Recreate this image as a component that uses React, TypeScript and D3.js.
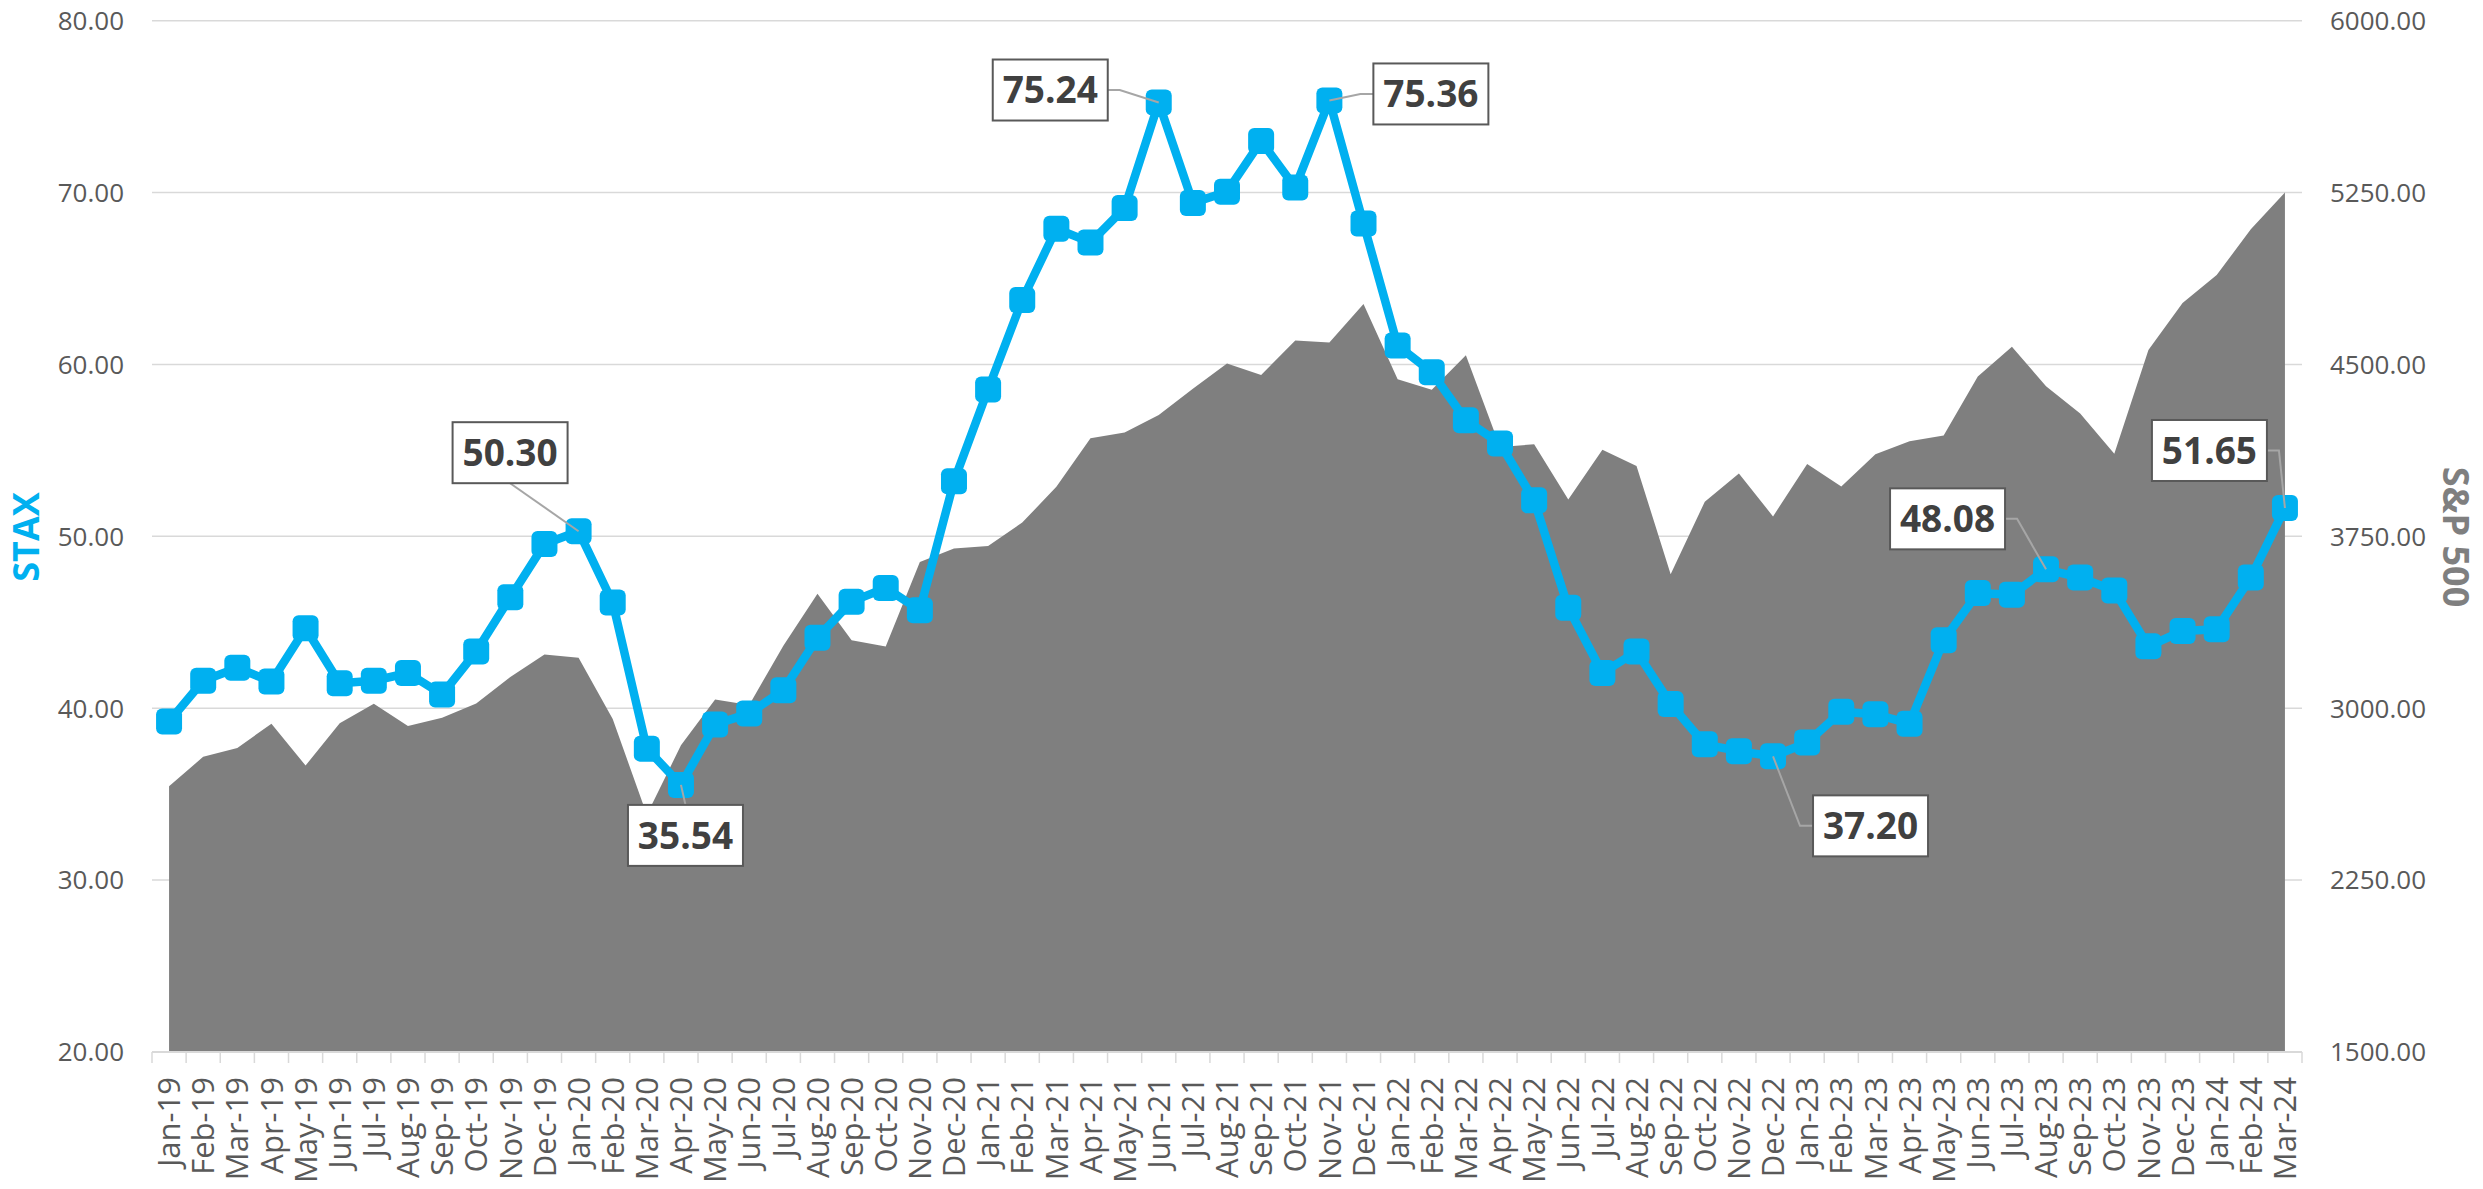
import { useEffect, useRef } from "react";
import * as d3 from "d3";

// categories (monthly)
const months = [
  "Jan-19", "Feb-19", "Mar-19", "Apr-19", "May-19", "Jun-19", "Jul-19", "Aug-19", "Sep-19", "Oct-19", "Nov-19", "Dec-19",
  "Jan-20", "Feb-20", "Mar-20", "Apr-20", "May-20", "Jun-20", "Jul-20", "Aug-20", "Sep-20", "Oct-20", "Nov-20", "Dec-20",
  "Jan-21", "Feb-21", "Mar-21", "Apr-21", "May-21", "Jun-21", "Jul-21", "Aug-21", "Sep-21", "Oct-21", "Nov-21", "Dec-21",
  "Jan-22", "Feb-22", "Mar-22", "Apr-22", "May-22", "Jun-22", "Jul-22", "Aug-22", "Sep-22", "Oct-22", "Nov-22", "Dec-22",
  "Jan-23", "Feb-23", "Mar-23", "Apr-23", "May-23", "Jun-23", "Jul-23", "Aug-23", "Sep-23", "Oct-23", "Nov-23", "Dec-23",
  "Jan-24", "Feb-24", "Mar-24",
];

// STAX (left axis)
const stax = [
  39.23, 41.6, 42.35, 41.55, 44.65, 41.45, 41.6, 42.05, 40.8, 43.3, 46.45, 49.55,
  50.3, 46.15, 37.65, 35.54, 39.05, 39.7, 41.05, 44.1, 46.2, 47.0, 45.7, 53.2,
  58.55, 63.75, 67.9, 67.1, 69.1, 75.24, 69.4, 70.05, 73.0, 70.3, 75.36, 68.2,
  61.1, 59.55, 56.75, 55.4, 52.1, 45.85, 42.05, 43.3, 40.25, 37.9, 37.5, 37.2,
  38.0, 39.8, 39.65, 39.1, 43.95, 46.7, 46.6, 48.08, 47.6, 46.85, 43.6, 44.5,
  44.6, 47.6, 51.65,
];

// S&P 500 (right axis)
const spx = [
  2660, 2788, 2827, 2932, 2750, 2935, 3020, 2923, 2958, 3021, 3136, 3234,
  3220, 2953, 2535, 2838, 3038, 3014, 3273, 3500, 3297, 3269, 3638, 3697,
  3708, 3810, 3966, 4178, 4203, 4280, 4394, 4504, 4454, 4605, 4596, 4764,
  4435, 4390, 4540, 4140, 4152, 3911, 4128, 4057, 3585, 3901, 4024, 3837,
  4066, 3967, 4108, 4165, 4190, 4447, 4577, 4405, 4286, 4110, 4563, 4768,
  4890, 5090, 5250,
];

const leftTicks = [20, 30, 40, 50, 60, 70, 80];
const rightTicks = [1500, 2250, 3000, 3750, 4500, 5250, 6000];

// callouts: which point, box offset from the marker, side the leader attaches to
const callouts = [
  { i: 12, dx: -126, dy: -109, side: "bottom" },
  { i: 15, dx: -53, dy: 20, side: "top" },
  { i: 29, dx: -166, dy: -43, side: "right" },
  { i: 34, dx: 44, dy: -37, side: "left" },
  { i: 47, dx: 40, dy: 39, side: "left" },
  { i: 55, dx: -156, dy: -81, side: "right" },
  { i: 62, dx: -133, dy: -88, side: "right" },
];

const W = 2483;
const H = 1189;
const FONT = "'Open Sans', 'Noto Sans', sans-serif";

export default function App() {
  const svgRef = useRef<SVGSVGElement>(null);

  useEffect(() => {
    if (!svgRef.current) return;
    const svg = d3.select(svgRef.current);
    svg.selectAll("*").remove();

    const left = 152;
    const right = 2302;
    const top = 20.7;
    const bottom = 1052;

    const x = d3.scaleBand<string>().domain(months).range([left, right]).padding(0);
    const cx = (i: number) => (x(months[i]) as number) + x.bandwidth() / 2;
    const yL = d3.scaleLinear().domain([20, 80]).range([bottom, top]);
    const yR = d3.scaleLinear().domain([1500, 6000]).range([bottom, top]);

    // gridlines
    svg
      .append("g")
      .selectAll("line")
      .data(leftTicks)
      .enter()
      .append("line")
      .attr("x1", left)
      .attr("x2", right)
      .attr("y1", (d) => yL(d))
      .attr("y2", (d) => yL(d))
      .attr("stroke", "#d9d9d9")
      .attr("stroke-width", 1.5);

    // S&P area
    const area = d3
      .area<number>()
      .x((_, i) => cx(i))
      .y0(bottom)
      .y1((d) => yR(d));
    svg.append("path").datum(spx).attr("d", area).attr("fill", "#7f7f7f");

    // x axis line + ticks
    svg
      .append("line")
      .attr("x1", left)
      .attr("x2", right)
      .attr("y1", bottom)
      .attr("y2", bottom)
      .attr("stroke", "#d9d9d9")
      .attr("stroke-width", 2);
    const bounds = months.map((m) => x(m) as number).concat([right]);
    svg
      .append("g")
      .selectAll("line")
      .data(bounds)
      .enter()
      .append("line")
      .attr("x1", (d) => d)
      .attr("x2", (d) => d)
      .attr("y1", bottom)
      .attr("y2", bottom + 11)
      .attr("stroke", "#d9d9d9")
      .attr("stroke-width", 1.5);

    // x labels
    svg
      .append("g")
      .selectAll("text")
      .data(months)
      .enter()
      .append("text")
      .attr("transform", (_, i) => `translate(${cx(i)},${bottom + 25}) rotate(-90)`)
      .attr("dy", "0.36em")
      .attr("text-anchor", "end")
      .attr("font-family", FONT)
      .attr("font-size", 31)
      .attr("fill", "#595959")
      .text((d) => d);

    // y labels
    svg
      .append("g")
      .selectAll("text")
      .data(leftTicks)
      .enter()
      .append("text")
      .attr("x", 124)
      .attr("y", (d) => yL(d))
      .attr("dy", "0.36em")
      .attr("text-anchor", "end")
      .attr("font-family", FONT)
      .attr("font-size", 26)
      .attr("fill", "#595959")
      .text((d) => d.toFixed(2));

    svg
      .append("g")
      .selectAll("text")
      .data(rightTicks)
      .enter()
      .append("text")
      .attr("x", 2330)
      .attr("y", (d) => yR(d))
      .attr("dy", "0.36em")
      .attr("text-anchor", "start")
      .attr("font-family", FONT)
      .attr("font-size", 26)
      .attr("fill", "#595959")
      .text((d) => d.toFixed(2));

    // axis titles
    svg
      .append("text")
      .attr("transform", `translate(26,537) rotate(-90)`)
      .attr("dy", "0.36em")
      .attr("text-anchor", "middle")
      .attr("font-family", FONT)
      .attr("font-weight", 700)
      .attr("font-size", 36)
      .attr("fill", "#00b0f0")
      .text("STAX");

    svg
      .append("text")
      .attr("transform", `translate(2456,537) rotate(90)`)
      .attr("dy", "0.36em")
      .attr("text-anchor", "middle")
      .attr("font-family", FONT)
      .attr("font-weight", 700)
      .attr("font-size", 36)
      .attr("fill", "#7f7f7f")
      .text("S&P 500");

    // STAX line
    const line = d3
      .line<number>()
      .x((_, i) => cx(i))
      .y((d) => yL(d));
    svg
      .append("path")
      .datum(stax)
      .attr("d", line)
      .attr("fill", "none")
      .attr("stroke", "#00b0f0")
      .attr("stroke-width", 8.5)
      .attr("stroke-linejoin", "round");

    const ms = 26;
    svg
      .append("g")
      .selectAll("rect")
      .data(stax)
      .enter()
      .append("rect")
      .attr("x", (_, i) => cx(i) - ms / 2)
      .attr("y", (d) => yL(d) - ms / 2)
      .attr("width", ms)
      .attr("height", ms)
      .attr("rx", 6)
      .attr("fill", "#00b0f0");

    // callouts
    const bw = 115;
    const bh = 61;
    const g = svg.append("g");
    callouts.forEach((c) => {
      const px = cx(c.i);
      const py = yL(stax[c.i]);
      const bx = px + c.dx;
      const by = py + c.dy;
      let pts: [number, number][] = [];
      if (c.side === "bottom") pts = [[bx + bw / 2, by + bh], [px, py]];
      else if (c.side === "top") pts = [[bx + bw / 2, by], [px, py]];
      else if (c.side === "right")
        pts = [[bx + bw, by + bh / 2], [bx + bw + 12, by + bh / 2], [px, py]];
      else pts = [[bx, by + bh / 2], [bx - 13, by + bh / 2], [px, py]];

      g.append("path")
        .attr("d", d3.line()(pts))
        .attr("fill", "none")
        .attr("stroke", "#a6a6a6")
        .attr("stroke-width", 2);

      g.append("rect")
        .attr("x", bx)
        .attr("y", by)
        .attr("width", bw)
        .attr("height", bh)
        .attr("fill", "#ffffff")
        .attr("stroke", "#595959")
        .attr("stroke-width", 2);

      g.append("text")
        .attr("x", bx + bw / 2)
        .attr("y", by + bh / 2)
        .attr("dy", "0.36em")
        .attr("text-anchor", "middle")
        .attr("font-family", FONT)
        .attr("font-weight", 700)
        .attr("font-size", 37)
        .attr("fill", "#404040")
        .text(stax[c.i].toFixed(2));
    });
  }, []);

  return (
    <svg
      ref={svgRef}
      width={W}
      height={H}
      style={{ position: "absolute", left: 0, top: 0, background: "#ffffff" }}
    />
  );
}
